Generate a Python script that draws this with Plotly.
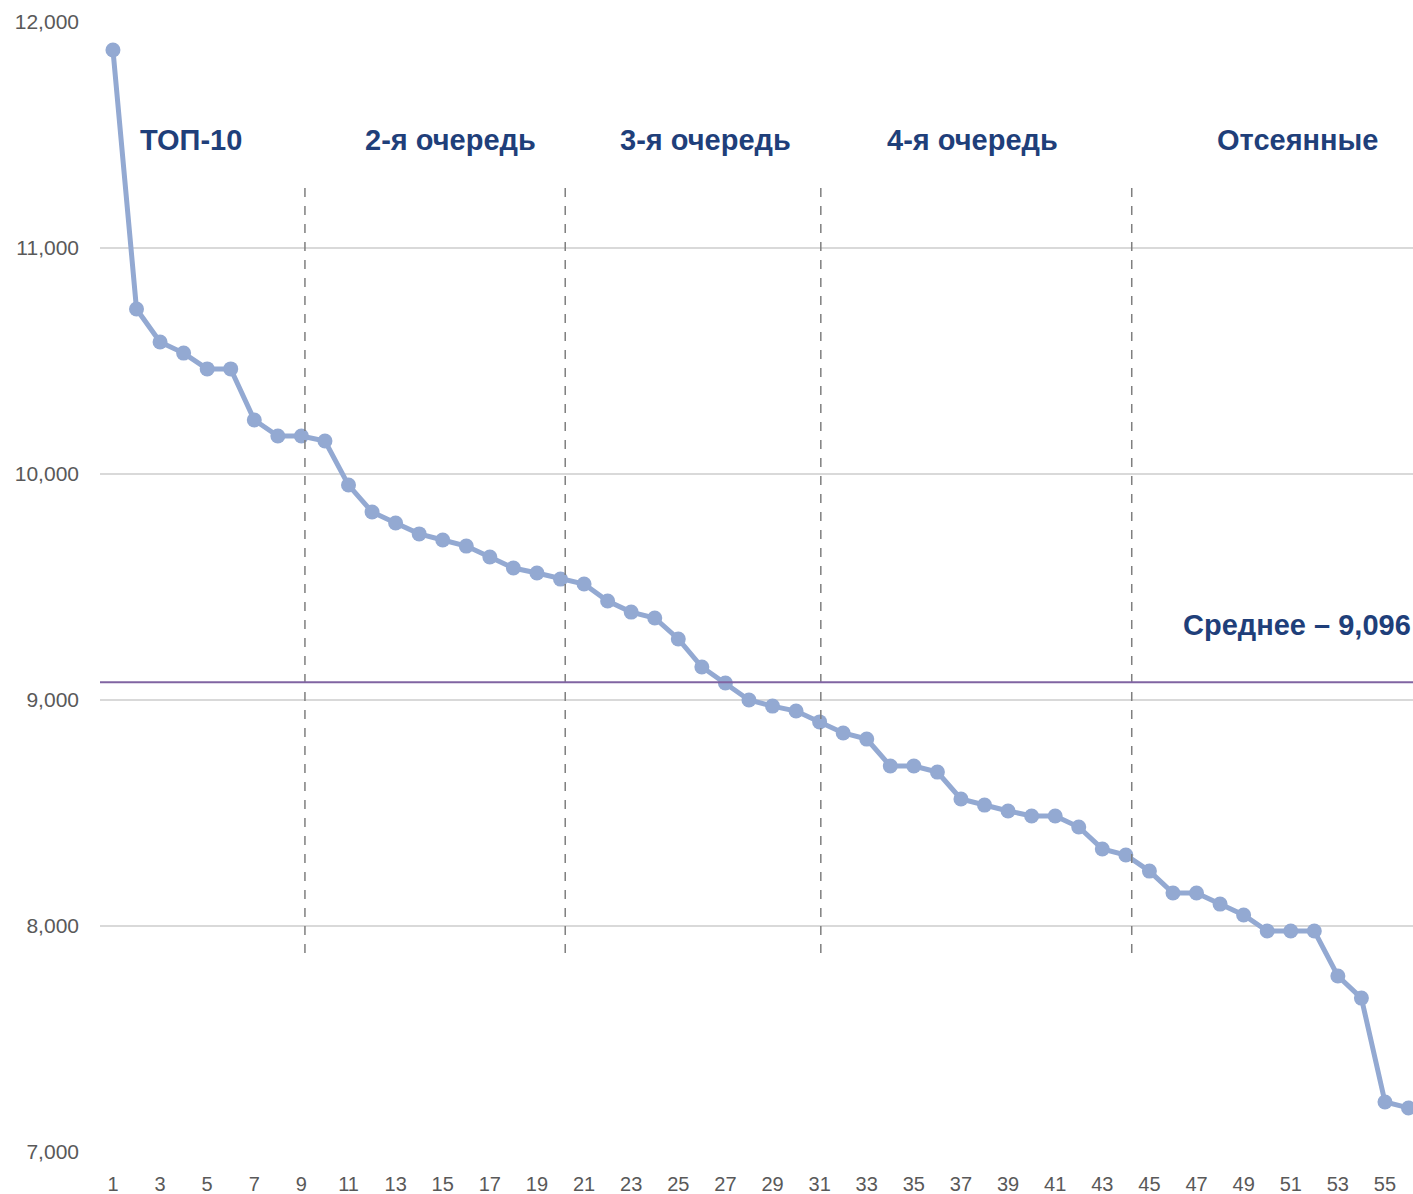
import plotly.graph_objects as go

ranks = list(range(1, 57))
values = [11876, 10730, 10584, 10535, 10465, 10465, 10239, 10168, 10168, 10146,
          9951, 9832, 9783, 9735, 9708, 9681, 9633, 9584, 9562, 9535,
          9513, 9438, 9389, 9363, 9270, 9146, 9075, 9000, 8973, 8951,
          8903, 8854, 8827, 8708, 8708, 8681, 8562, 8535, 8509, 8487,
          8487, 8438, 8341, 8314, 8243, 8146, 8146, 8097, 8049, 7978,
          7978, 7978, 7779, 7681, 7221, 7195]
mean_value = 9078
mean_label = "Среднее – 9,096"
group_labels = ["ТОП-10", "2-я очередь", "3-я очередь", "4-я очередь", "Отсеянные"]
group_label_x = [4.3, 15.35, 26.15, 37.5, 51.3]
group_label_y = 11480
divider_x = [9.15, 20.2, 31.05, 44.25]
divider_y = [7880, 11270]
tick_vals = list(range(1, 57, 2))

navy = "#1F3F7A"

fig = go.Figure()
fig.add_trace(go.Scatter(
    x=ranks, y=values, mode="lines+markers",
    line=dict(color="#93A9D2", width=5),
    marker=dict(color="#93A9D2", size=15),
    showlegend=False, hoverinfo="x+y"))

for dx in divider_x:
    fig.add_trace(go.Scatter(
        x=[dx, dx], y=divider_y, mode="lines",
        line=dict(color="#7F7F7F", width=1.5, dash="dash"),
        showlegend=False, hoverinfo="skip"))

fig.add_shape(type="line", xref="paper", yref="y", x0=0, x1=1,
              y0=mean_value, y1=mean_value,
              line=dict(color="#8064A2", width=2), layer="above")

for lbl, lx in zip(group_labels, group_label_x):
    fig.add_annotation(x=lx, y=group_label_y, text=f"<b>{lbl}</b>", showarrow=False,
                       font=dict(family="Liberation Sans, Arial, sans-serif", size=29, color=navy))

fig.add_annotation(xref="paper", x=1.0, y=9330, xanchor="right", text=f"<b>{mean_label}</b>",
                   showarrow=False,
                   font=dict(family="Liberation Sans, Arial, sans-serif", size=29, color=navy))

fig.update_layout(
    width=1413, height=1194,
    margin=dict(l=100, r=0, t=22, b=42),
    paper_bgcolor="white", plot_bgcolor="white",
    font=dict(family="Liberation Sans, Arial, sans-serif", size=21, color="#595959"),
    xaxis=dict(range=[0.45, 56.19], tickvals=tick_vals, showgrid=False, zeroline=False,
               showline=False, ticks="", tickfont=dict(size=20, color="#595959")),
    yaxis=dict(range=[7000, 12000], dtick=1000, tickformat=",", showgrid=True,
               gridcolor="#D9D9D9", gridwidth=1.5, zeroline=False, showline=False,
               ticks="", ticklen=0, tickfont=dict(size=21, color="#595959")),
)
fig.update_yaxes(ticklabelstandoff=20)
fig.update_xaxes(ticklabelstandoff=18)

fig.write_html("out.html", config={"displayModeBar": False},
               post_script="document.body.style.margin='0';document.body.style.overflow='hidden';")
